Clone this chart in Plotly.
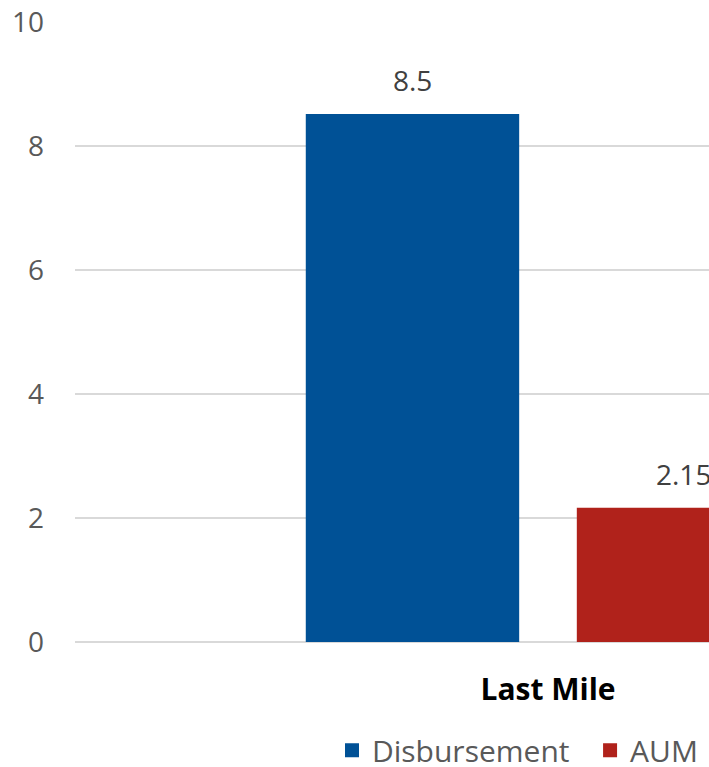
import plotly.graph_objects as go

categories = ["Last Mile"]
series_names = ["Disbursement", "AUM"]
disbursement = [8.5]
aum = [2.15]
colors = ["#005196", "#B0221B"]
value_labels = ["8.5", "2.15"]

BARGAP = 0.427
BARGROUPGAP = 0.22
LEGEND_PAD = "\u00a0\u00a0"  # extra spacing after a legend entry

fig = go.Figure()
all_vals = [disbursement, aum]
for i, (name, vals, col) in enumerate(zip(series_names, all_vals, colors)):
    label = name + (LEGEND_PAD if i < len(series_names) - 1 else "")
    fig.add_trace(go.Bar(
        x=categories, y=vals, name=label, marker_color=col,
        marker_line_width=2, marker_line_color=col,
    ))

# value labels above each bar (positions derived from the group layout)
n = len(all_vals)
slot = (1 - BARGAP) / n
for i, (vals, lab) in enumerate(zip(all_vals, value_labels)):
    off = -(1 - BARGAP) / 2 + slot * (i + 0.5)
    for ci, v in enumerate(vals):
        fig.add_annotation(x=ci + off, y=v, text=lab, showarrow=False,
                           xanchor="center", yanchor="bottom", yshift=14,
                           font=dict(family="Open Sans", size=28, color="#404040"))

fig.update_layout(
    width=709, height=767,
    margin=dict(l=75, r=0, t=22, b=125, autoexpand=False),
    paper_bgcolor="white", plot_bgcolor="white",
    barmode="group", bargap=BARGAP, bargroupgap=BARGROUPGAP,
    font=dict(family="Open Sans", color="#595959", size=28),
    showlegend=True,
    legend=dict(orientation="h", xref="paper", yref="container",
                x=0.9905, xanchor="right", y=0.022, yanchor="middle",
                font=dict(family="Open Sans", size=30, color="#595959"),
                traceorder="normal"),
)
fig.update_xaxes(range=[-0.5, 0.1702], showgrid=False, showline=False, ticks="",
                 tickfont=dict(family="Open Sans", size=30, color="#000000", weight="bold"),
                 ticklabelstandoff=27)
fig.update_yaxes(range=[0, 10], dtick=2, showgrid=True, gridcolor="#D9D9D9", gridwidth=2,
                 zeroline=True, zerolinecolor="#D9D9D9", zerolinewidth=2,
                 showline=False, ticks="", ticklabelstandoff=30,
                 tickfont=dict(family="Open Sans", size=28, color="#595959"))

fig.write_html("out.html", config={"displayModeBar": False},
               post_script="document.body.style.margin='0px';document.body.style.overflow='hidden';")
